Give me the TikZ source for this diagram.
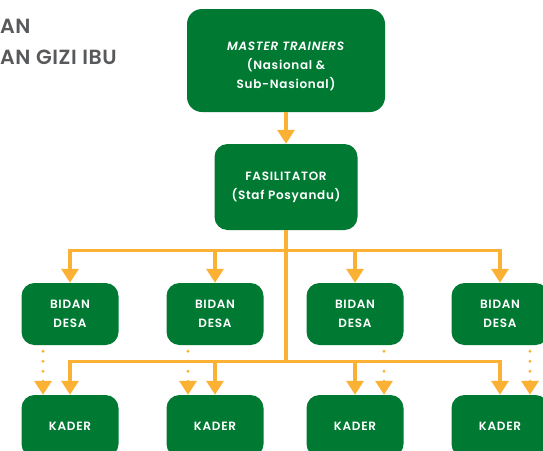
\documentclass[tikz,border=0pt]{standalone}
\usepackage{fontspec}
\setmainfont{Poppins}[BoldFont={Poppins Medium}, BoldItalicFont={Poppins Medium Italic}]
\newfontfamily\boxfont{Poppins}[BoldFont={Poppins SemiBold}, BoldItalicFont={Poppins SemiBold Italic}, LetterSpace=6]
\newfontfamily\headfont{Poppins}[BoldFont={Poppins SemiBold}, LetterSpace=3]
\usetikzlibrary{arrows.meta}
\definecolor{posgreen}{RGB}{0,122,51}
\definecolor{posorange}{RGB}{251,178,52}
\definecolor{posgray}{RGB}{88,89,91}
\tikzset{
  boxtext/.style={text=white, align=center, inner sep=0pt, font=\boxfont\bfseries\fontsize{12}{19}\selectfont},
  box/.style={boxtext, fill=posgreen, rounded corners=13pt, minimum width=97pt, minimum height=62pt},
  head/.style={anchor=base west, inner sep=0pt, text=posgray, font=\headfont\bfseries\fontsize{20.5}{20}\selectfont},
  link/.style={posorange, line width=3.3pt},
  arr/.style={link, -{Triangle[width=17pt,length=14pt]}},
  dotarr/.style={arr, line cap=round, dash pattern=on 0pt off 10pt, shorten <=6pt}
}

\begin{document}
\begin{tikzpicture}[x=1pt,y=-1pt]
    \useasboundingbox (0,0) rectangle (543,450);
    %heading
    \node[head] (head1) at (0,33) {AN};
    \node[head] (head2) at (0,64) {AN GIZI IBU};
    %boxes
    \node[box, rounded corners=15pt, minimum width=198pt, minimum height=103pt,
      label={[boxtext, yshift=-6pt]center:{\textit{MASTER TRAINERS}\\(Nasional \&\\Sub-Nasional)}}] (master) at (286,60.5) {};
    \node[box, minimum width=143pt, minimum height=86pt] (fasil) at (286,187) {FASILITATOR\\(Staf Posyandu)};
    \foreach \i/\x in {1/70,2/215,3/355,4/500} {
    \node[box] (bidan\i) at (\x,314) {BIDAN\\DESA};
    \node[box] (kader\i) at (\x,426) {KADER};}
    %arrows
    \draw[arr] (master.south) -- (fasil.north);
    \draw[link] (fasil.south) -- ++(0,131) coordinate (hub);
    \foreach \i in {1,...,4} {
    \draw[arr] (fasil.south) -- ++(0,20) -| (bidan\i.north);
    \draw[arr] (hub) -| (kader\i.north);}
    \foreach \i/\d in {1/-27,2/-27,3/29,4/30}
    \draw[dotarr] ([xshift=\d pt]bidan\i.south) -- ([xshift=\d pt]kader\i.north);
\end{tikzpicture}
\end{document}
